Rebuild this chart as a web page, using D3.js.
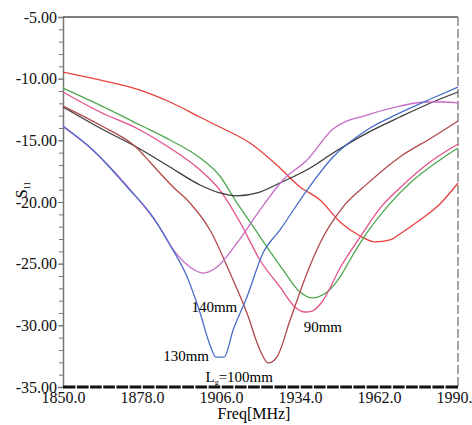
<!DOCTYPE html>
<html>
<head>
<meta charset="utf-8">
<script src="https://cdn.jsdelivr.net/npm/d3@7"></script>
<style>
  body { margin: 0; background: #fff; }
</style>
</head>
<body>
<svg id="chart" width="472" height="425"></svg>
<script>
// S11 curves, [freq MHz, S11 dB]
const redCurve = [[1850,-9.46],[1863,-10.1],[1877.3,-10.92],[1887.9,-11.89],[1898.5,-13.11],[1905.6,-13.92],[1916.3,-15.22],[1926.9,-17.24],[1934,-18.78],[1941.1,-19.84],[1948.2,-21.62],[1955.3,-22.76],[1960.6,-23.24],[1965.9,-23.08],[1969.4,-22.59],[1976.5,-21.46],[1983.6,-20.16],[1990,-18.46]];
const greenCurve = [[1850,-10.76],[1863.1,-12.14],[1877.3,-13.76],[1887.9,-14.97],[1898.6,-16.43],[1905.6,-17.89],[1911,-19.84],[1916.3,-21.62],[1922.3,-23.65],[1928,-25.51],[1934,-27.3],[1938.3,-27.78],[1943.6,-27.3],[1948.2,-26.08],[1951.7,-24.7],[1957.7,-22.51],[1964.8,-20.41],[1973,-18.46],[1983.6,-16.59],[1990,-15.62]];
const pinkCurve = [[1850,-11.08],[1863.1,-12.7],[1877.3,-14.16],[1887.9,-15.62],[1898.6,-17.41],[1905.6,-19.03],[1912.7,-21.62],[1919.8,-24.7],[1926.9,-26.89],[1932.2,-28.51],[1935.8,-28.92],[1938.3,-28.84],[1941.8,-28.11],[1948.2,-25.35],[1955.3,-22.84],[1962.4,-20.49],[1969.4,-18.86],[1980.1,-16.76],[1990,-15.3]];
const brownCurve = [[1850,-12.22],[1863.1,-13.76],[1876.2,-15.62],[1880.8,-16.76],[1889,-18.78],[1895,-20.08],[1902.1,-22.27],[1909.2,-25.76],[1915.2,-29.0],[1919.8,-32.0],[1922.7,-33.05],[1925.8,-32.57],[1930.5,-29.57],[1936.5,-25.76],[1941.1,-23.32],[1949.2,-20.41],[1957.7,-18.55],[1969.4,-16.35],[1981.1,-14.73],[1990,-13.43]];
const blackCurve = [[1850,-12.3],[1863.1,-14.0],[1877.3,-15.7],[1887.9,-17.16],[1898.6,-18.62],[1905.6,-19.27],[1911.7,-19.51],[1918.8,-19.27],[1927.6,-18.38],[1937.6,-17.24],[1945.7,-16.03],[1957.7,-14.41],[1969.4,-13.11],[1981.1,-11.89],[1990,-11.08]];
const blueCurve = [[1850,-13.84],[1860.6,-15.78],[1872.7,-18.78],[1881.9,-21.22],[1887.9,-23.49],[1894,-26.08],[1898.6,-29.0],[1902.1,-31.59],[1904.2,-32.57],[1907.1,-32.57],[1910.3,-30.38],[1915.2,-27.7],[1920.9,-24.14],[1926.9,-22.27],[1936.5,-19.03],[1945.7,-16.35],[1957.7,-14.16],[1969.4,-12.78],[1981.1,-11.57],[1990,-10.68]];
const violetCurve = [[1850,-13.9],[1860.6,-15.8],[1872.7,-18.7],[1884.4,-22.1],[1889.7,-24.05],[1895,-25.27],[1899.6,-25.76],[1904.6,-25.27],[1911.7,-23.32],[1919.8,-20.65],[1928,-18.22],[1936.5,-16.59],[1945.7,-14.08],[1957.7,-12.95],[1969.4,-12.22],[1979,-11.89],[1984.7,-11.89],[1990,-11.97]];

const xTicks = [1850, 1878, 1906, 1934, 1962, 1990];
const yTicks = [-5, -10, -15, -20, -25, -30, -35];

const curves = [
    { pts: redCurve, color: "#e8403c" },
    { pts: greenCurve, color: "#4ea84e" },
    { pts: pinkCurve, color: "#e4508c" },
    { pts: blackCurve, color: "#3c3c3c" },
    { pts: brownCurve, color: "#b0484a" },
    { pts: violetCurve, color: "#c66cc6" },
    { pts: blueCurve, color: "#4a6cc8" }
];

const serif = "'Times New Roman', 'Liberation Serif', 'DejaVu Serif', serif";

const margin = { top: 17, right: 14, bottom: 38, left: 63 };
const width = 472 - margin.left - margin.right;
const height = 425 - margin.top - margin.bottom;

const svg = d3.select("#chart");
const g = svg.append("g").attr("transform", `translate(${margin.left},${margin.top})`);

const x = d3.scaleLinear().domain([1850, 1990]).range([0, width]);
const y = d3.scaleLinear().domain([-35, -5]).range([height, 0]);

// minor y ticks, every 1 dB
g.append("g")
    .call(d3.axisLeft(y).tickValues(d3.range(-35, -4, 1)).tickSize(4).tickFormat(""))
    .call(a => a.select(".domain").remove())
    .selectAll("line").attr("stroke", "#777");

// major y axis
g.append("g")
    .call(d3.axisLeft(y).tickValues(yTicks).tickSize(5).tickPadding(1).tickFormat(d => d.toFixed(2)))
    .call(a => a.select(".domain").attr("stroke", "#777").attr("stroke-width", 1.5))
    .call(a => a.selectAll("line").attr("stroke", "#777"))
    .call(a => a.selectAll("text").style("font-family", serif).style("font-size", "16px").attr("fill", "#111"));

// top and right frame
g.append("line").attr("x1", 0).attr("x2", width).attr("y1", 0).attr("y2", 0)
    .attr("stroke", "#555").attr("stroke-width", 1.5);
g.append("line").attr("x1", width).attr("x2", width).attr("y1", 0).attr("y2", height)
    .attr("stroke", "#888").attr("stroke-width", 1.5).attr("stroke-dasharray", "9,3");

// curves
const line = d3.line().x(d => x(d[0])).y(d => y(d[1])).curve(d3.curveMonotoneX);
g.selectAll(".curve")
    .data(curves)
    .enter().append("path")
    .attr("class", "curve")
    .attr("d", d => line(d.pts))
    .attr("fill", "none")
    .attr("stroke", d => d.color)
    .attr("stroke-width", 1.3);

// bottom axis: thick black bar with small white gaps
g.append("line").attr("x1", 0).attr("x2", width).attr("y1", height).attr("y2", height)
    .attr("stroke", "#111").attr("stroke-width", 3);
g.selectAll(".gap")
    .data(d3.range(1850 + 28 / 6, 1990, 28 / 6))
    .enter().append("line")
    .attr("class", "gap")
    .attr("x1", d => x(d)).attr("x2", d => x(d))
    .attr("y1", height - 2).attr("y2", height + 2)
    .attr("stroke", "#fff").attr("stroke-width", 1.5);

g.append("g")
    .attr("transform", `translate(0,${height})`)
    .call(d3.axisBottom(x).tickValues(xTicks).tickSize(0).tickPadding(5).tickFormat(d => d.toFixed(1)))
    .call(a => a.select(".domain").remove())
    .call(a => a.selectAll("text").style("font-family", serif).style("font-size", "16px").attr("fill", "#111"));

// axis titles
svg.append("text")
    .attr("x", 254).attr("y", 419)
    .attr("text-anchor", "middle")
    .style("font-family", serif)
    .style("font-size", "16px")
    .text("Freq[MHz]");

const yl = svg.append("text")
    .attr("transform", "translate(27,190) rotate(-90)")
    .attr("text-anchor", "middle")
    .style("font-family", serif)
    .style("font-size", "16px");
yl.append("tspan").text("S");
yl.append("tspan").attr("dy", 3).style("font-size", "8px").text("11");

// curve labels
const labels = [
    { text: "140mm", f: 1895.5, s: -28.9 },
    { text: "130mm", f: 1885.5, s: -32.9 },
    { text: "90mm", f: 1935.3, s: -30.5 }
];
svg.selectAll(".lbl")
    .data(labels)
    .enter().append("text")
    .attr("class", "lbl")
    .attr("x", d => margin.left + x(d.f))
    .attr("y", d => margin.top + y(d.s))
    .style("font-family", serif)
    .style("font-size", "15px")
    .text(d => d.text);

const lg = svg.append("text")
    .attr("x", margin.left + x(1900.5))
    .attr("y", margin.top + y(-34.6))
    .style("font-family", serif)
    .style("font-size", "15px");
lg.append("tspan").text("L");
lg.append("tspan").attr("dy", 3).style("font-size", "8px").text("g");
lg.append("tspan").attr("dy", -3).text("=100mm");
</script>
</body>
</html>
